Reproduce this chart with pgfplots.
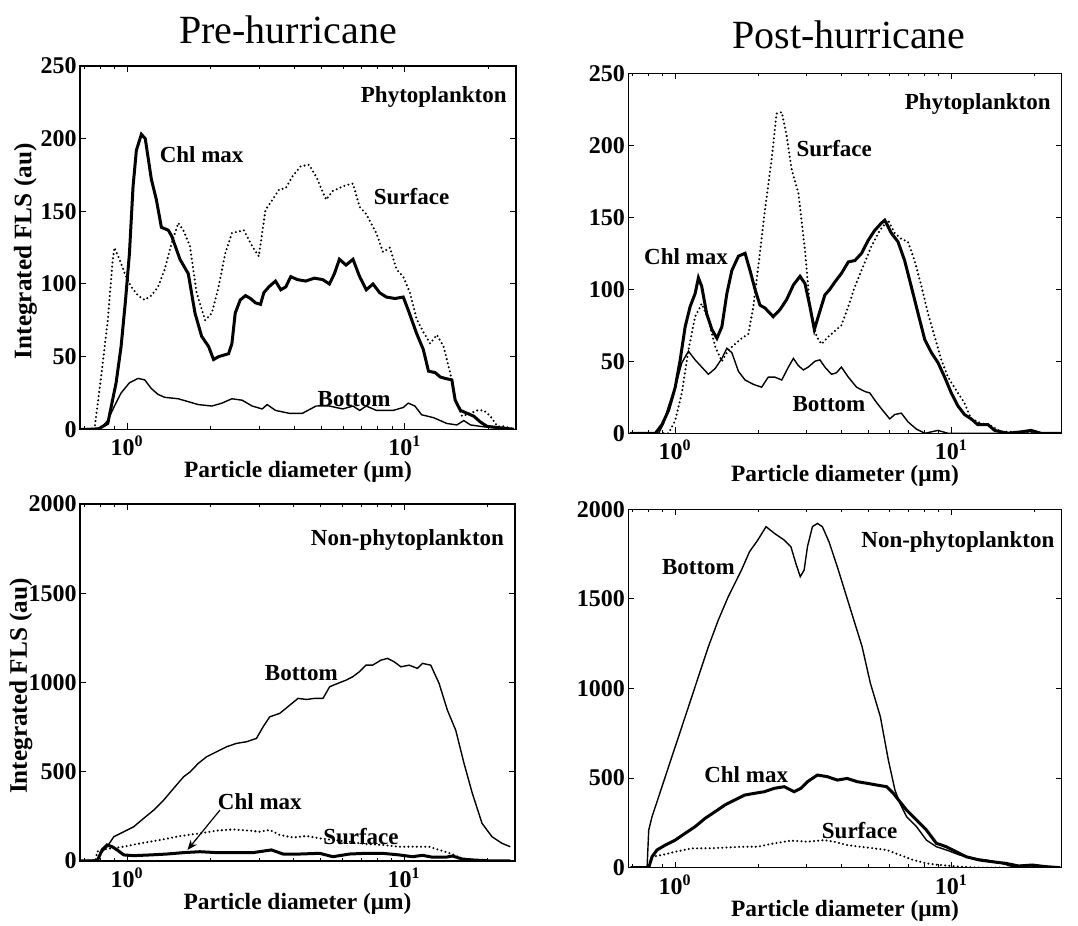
\documentclass[border=0pt]{standalone}
\usepackage{fontspec}
\setmainfont{Liberation Serif}
\usepackage{pgfplots}
\pgfplotsset{compat=1.18}
\usetikzlibrary{arrows.meta}

% x values are log10 of particle diameter (um)
\pgfplotsset{
  panel/.style={
    scale only axis,
    anchor=south west,
    xmin=-0.17, xmax=1.40,
    xtick={0,1},
    xticklabels={\textbf{10}\textsuperscript{\textbf{0}},\textbf{10}\textsuperscript{\textbf{1}}},
    minor xtick={-0.155,-0.097,-0.046,0.301,0.477,0.602,0.699,0.778,0.845,0.903,0.954,1.301},
    ymin=0,
    tick align=inside,
    major tick length=3pt,
    minor tick length=1.6pt,
    tick style={black, line width=0.5pt},
    axis line style={line width=0.6pt},
    ticklabel style={font=\bfseries\fontsize{12}{12}\selectfont},
    /pgf/number format/assume math mode=true,
    /pgf/number format/1000 sep={},
    scaled y ticks=false,
    yticklabel style={inner xsep=1.5pt},
    xlabel={Particle diameter (μm)},
    xlabel style={font=\bfseries\fontsize{11.7}{12}\selectfont, yshift=4pt},
  },
  fls/.style={
    ylabel={Integrated FLS (au)},
    ylabel style={font=\bfseries\fontsize{12.6}{13}\selectfont,
      at={(axis description cs:#1,0.49)}, anchor=center},
  },
  chlline/.style={black, line width=1.5pt},
  dotline/.style={black, line width=1.15pt, line cap=round, dash pattern=on 0pt off 2.1pt},
  botline/.style={black, line width=0.7pt},
}
\tikzset{lab/.style={font=\bfseries\fontsize{11.5}{12}\selectfont, inner sep=0pt}}

\begin{document}
\begin{tikzpicture}
\useasboundingbox (0,0) rectangle (539pt,463pt);

\node[font=\fontsize{20}{22}\selectfont] at (144pt,448pt) {Pre-hurricane};
\node[font=\fontsize{20}{22}\selectfont] at (424.5pt,445.5pt) {Post-hurricane};

% ---------- pre-hurricane, phytoplankton ----------
\begin{axis}[panel, at={(40pt,248.35pt)}, width=218pt, height=181.65pt,
  ymax=250, ytick={0,50,...,250}, fls=-0.125]
\addplot[dotline] table {
lgd v
-0.179 0
-0.118 0
-0.094 36
-0.070 75
-0.052 117
-0.046 125
-0.028 117
-0.004 105
0.015 98
0.039 92
0.063 89
0.087 92
0.111 98
0.135 110
0.160 128
0.184 142
0.202 137
0.226 126
0.250 94
0.281 75
0.305 80
0.329 98
0.353 121
0.377 135
0.420 137
0.450 126
0.474 119
0.498 151
0.516 156
0.547 165
0.571 166
0.595 174
0.625 181
0.655 182
0.680 174
0.716 158
0.740 164
0.764 166
0.788 168
0.813 169
0.837 153
0.861 148
0.897 135
0.921 122
0.946 125
0.970 110
0.994 105
1.018 94
1.042 76
1.066 67
1.091 59
1.115 65
1.139 57
1.163 39
1.181 20
1.206 9
1.236 11
1.260 13
1.284 13
1.308 9
1.333 2
1.357 2
1.393 0
};
\addplot[chlline] table {
lgd v
-0.179 0
-0.106 0
-0.070 4
-0.040 32
-0.022 57
-0.006 89
0.008 121
0.021 167
0.033 192
0.051 203
0.065 200
0.087 172
0.105 158
0.123 139
0.148 137
0.160 133
0.190 117
0.220 107
0.244 80
0.268 64
0.293 57
0.311 48
0.329 50
0.347 51
0.365 52
0.377 59
0.389 80
0.407 89
0.426 92
0.444 90
0.462 87
0.480 86
0.492 94
0.510 98
0.534 102
0.553 96
0.571 98
0.589 105
0.613 103
0.643 102
0.674 104
0.704 103
0.728 100
0.746 107
0.764 117
0.788 113
0.813 117
0.837 105
0.861 96
0.885 100
0.909 94
0.933 91
0.964 90
0.994 91
1.012 82
1.042 66
1.066 55
1.085 40
1.109 39
1.127 36
1.145 35
1.169 34
1.181 20
1.200 13
1.224 11
1.248 9
1.272 5
1.296 2
1.345 1
1.393 0
};
\addplot[botline] table {
lgd v
-0.179 0
-0.094 1
-0.070 6
-0.046 16
-0.022 25
0.008 32
0.039 35
0.063 34
0.087 28
0.111 24
0.135 22
0.184 21
0.220 19
0.256 17
0.305 16
0.341 18
0.377 21
0.414 20
0.450 16
0.486 14
0.504 17
0.534 13
0.583 11
0.631 11
0.680 16
0.728 16
0.776 14
0.813 16
0.837 13
0.861 16
0.897 13
0.958 13
0.994 15
1.012 18
1.036 16
1.060 10
1.103 8
1.151 4
1.187 3
1.212 6
1.236 3
1.272 2
1.320 1
1.393 0
};
\node[lab] at (axis cs:1.104,229) {Phytoplankton};
\node[lab] at (axis cs:0.268,189) {Chl max};
\node[lab] at (axis cs:1.024,160) {Surface};
\node[lab] at (axis cs:0.817,21) {Bottom};
\end{axis}

% ---------- post-hurricane, phytoplankton ----------
\begin{axis}[panel, at={(314.15pt,246.35pt)}, width=216.7pt, height=180pt,
  ymax=250, ytick={0,50,...,250}]
\addplot[dotline] table {
lgd v
-0.163 0
-0.024 0
0.000 9
0.024 28
0.048 58
0.072 81
0.096 90
0.120 79
0.145 60
0.169 50
0.193 58
0.217 62
0.241 66
0.265 69
0.283 88
0.301 116
0.325 155
0.349 190
0.367 222
0.386 223
0.404 206
0.422 183
0.446 167
0.470 127
0.488 88
0.512 67
0.530 62
0.554 67
0.578 71
0.602 75
0.627 88
0.651 102
0.681 116
0.711 130
0.741 141
0.771 148
0.795 139
0.819 135
0.843 133
0.867 120
0.892 102
0.916 83
0.940 67
0.964 51
0.988 39
1.024 28
1.048 21
1.072 10
1.108 7
1.145 5
1.181 1
1.265 1
1.325 0
1.404 0
};
\addplot[chlline] table {
lgd v
-0.163 0
-0.072 0
-0.048 6
-0.024 16
0.000 32
0.018 51
0.036 74
0.054 88
0.072 97
0.084 108
0.096 102
0.114 83
0.133 72
0.151 66
0.169 74
0.187 97
0.205 113
0.229 123
0.253 125
0.271 113
0.289 100
0.307 89
0.325 87
0.355 81
0.380 86
0.404 93
0.428 103
0.452 109
0.470 104
0.488 88
0.504 72
0.518 81
0.542 96
0.560 100
0.578 105
0.602 111
0.627 119
0.651 120
0.675 125
0.699 134
0.723 141
0.747 146
0.759 148
0.783 139
0.807 133
0.831 120
0.855 102
0.880 83
0.904 65
0.928 56
0.952 49
0.976 39
1.000 28
1.024 19
1.048 13
1.072 10
1.096 6
1.133 6
1.157 2
1.205 0
1.253 1
1.289 2
1.325 0
1.404 0
};
\addplot[botline] table {
lgd v
-0.163 0
-0.060 0
-0.042 7
-0.024 19
0.000 32
0.024 49
0.048 57
0.072 51
0.096 46
0.120 41
0.145 45
0.169 52
0.187 59
0.205 56
0.229 43
0.253 37
0.283 34
0.313 32
0.337 39
0.361 39
0.386 37
0.410 46
0.428 52
0.446 47
0.464 44
0.482 46
0.506 50
0.524 51
0.542 46
0.566 41
0.584 42
0.602 46
0.627 39
0.657 32
0.687 29
0.705 28
0.723 23
0.747 17
0.777 10
0.795 13
0.819 14
0.843 8
0.873 3
0.904 0
0.952 2
0.988 0
1.404 0
};
\node[lab] at (axis cs:1.096,229) {Phytoplankton};
\node[lab] at (axis cs:0.576,198) {Surface};
\node[lab] at (axis cs:0.039,123) {Chl max};
\node[lab] at (axis cs:0.557,20) {Bottom};
\end{axis}

% ---------- pre-hurricane, non-phytoplankton ----------
\begin{axis}[panel, at={(40pt,32.5pt)}, width=217.5pt, height=178.5pt,
  ymax=2000, ytick={0,500,...,2000}, fls=-0.136]
\addplot[dotline] table {
lgd v
-0.168 0
-0.114 0
-0.108 52
-0.096 62
-0.060 71
-0.012 80
0.048 99
0.120 118
0.192 140
0.263 155
0.323 170
0.383 177
0.443 170
0.479 164
0.515 174
0.551 146
0.599 132
0.647 140
0.695 127
0.743 118
0.802 108
0.862 95
0.922 90
0.982 80
1.042 80
1.090 80
1.126 62
1.174 39
1.210 11
1.246 2
1.383 0
};
\addplot[chlline] table {
lgd v
-0.168 0
-0.108 0
-0.090 62
-0.072 90
-0.054 80
-0.036 62
-0.012 34
0.024 30
0.084 34
0.144 39
0.204 47
0.263 52
0.323 47
0.383 47
0.455 47
0.521 62
0.563 39
0.623 39
0.695 43
0.743 24
0.802 39
0.862 43
0.922 43
0.982 34
1.030 24
1.066 32
1.102 21
1.150 21
1.174 28
1.210 11
1.246 6
1.317 0
1.383 0
};
\addplot[botline] table {
lgd v
-0.168 0
-0.108 6
-0.096 43
-0.072 80
-0.048 136
-0.012 164
0.024 192
0.060 239
0.096 285
0.132 341
0.168 407
0.204 472
0.228 500
0.257 547
0.287 584
0.323 612
0.359 640
0.395 659
0.431 668
0.467 687
0.491 752
0.515 808
0.551 827
0.587 873
0.617 911
0.647 905
0.677 911
0.707 911
0.731 976
0.754 991
0.790 1013
0.814 1032
0.838 1060
0.862 1097
0.886 1097
0.916 1125
0.940 1135
0.964 1116
0.988 1088
1.018 1097
1.048 1079
1.066 1107
1.096 1097
1.126 995
1.156 845
1.186 733
1.216 547
1.246 379
1.281 211
1.317 136
1.353 99
1.383 80
};
\node[lab] at (axis cs:1.012,1797) {Non-phytoplankton};
\node[lab] at (axis cs:0.629,1051) {Bottom};
\node[lab] at (axis cs:0.479,332) {Chl max};
\node[lab] at (axis cs:0.844,136) {Surface};
\draw[-{Stealth[length=5pt,width=4pt]}, line width=0.6pt] (axis cs:0.335,285) -- (axis cs:0.218,62);
\end{axis}

% ---------- post-hurricane, non-phytoplankton ----------
\begin{axis}[panel, at={(314.15pt,29.15pt)}, width=216.7pt, height=179.2pt,
  ymax=2000, ytick={0,500,...,2000}]
\addplot[dotline] table {
lgd v
-0.162 0
-0.096 0
-0.084 61
-0.048 71
0.000 89
0.060 108
0.120 108
0.180 112
0.240 117
0.299 117
0.359 136
0.419 151
0.479 145
0.539 154
0.575 145
0.623 126
0.671 117
0.719 108
0.766 99
0.814 71
0.862 43
0.910 24
0.958 15
1.030 6
1.102 0
1.395 0
};
\addplot[chlline] table {
lgd v
-0.162 0
-0.096 0
-0.084 61
-0.066 99
-0.036 126
0.000 154
0.036 192
0.072 229
0.108 275
0.144 312
0.180 350
0.216 378
0.251 405
0.287 415
0.323 424
0.359 443
0.395 452
0.431 424
0.455 443
0.479 480
0.515 517
0.551 508
0.587 489
0.623 498
0.659 480
0.695 471
0.731 461
0.766 452
0.790 415
0.814 368
0.838 322
0.874 266
0.910 210
0.946 136
0.982 117
1.018 89
1.054 61
1.102 43
1.150 33
1.198 24
1.246 9
1.293 15
1.341 6
1.395 0
};
\addplot[botline] table {
lgd v
-0.162 0
-0.102 0
-0.096 210
-0.084 285
-0.060 396
-0.024 564
0.012 731
0.048 898
0.084 1066
0.120 1233
0.156 1382
0.192 1512
0.240 1661
0.269 1763
0.299 1828
0.329 1903
0.359 1866
0.395 1828
0.419 1791
0.437 1698
0.453 1624
0.467 1661
0.479 1791
0.497 1903
0.515 1921
0.533 1903
0.557 1819
0.587 1680
0.617 1531
0.647 1382
0.677 1233
0.707 1029
0.743 843
0.772 601
0.796 433
0.814 359
0.838 285
0.874 229
0.910 154
0.946 117
0.982 99
1.030 71
1.078 52
1.126 43
1.174 28
1.222 6
1.257 15
1.293 9
1.341 2
1.395 0
};
\node[lab] at (axis cs:1.024,1819) {Non-phytoplankton};
\node[lab] at (axis cs:0.084,1680) {Bottom};
\node[lab] at (axis cs:0.257,517) {Chl max};
\node[lab] at (axis cs:0.668,210) {Surface};
\end{axis}
\end{tikzpicture}
\end{document}
